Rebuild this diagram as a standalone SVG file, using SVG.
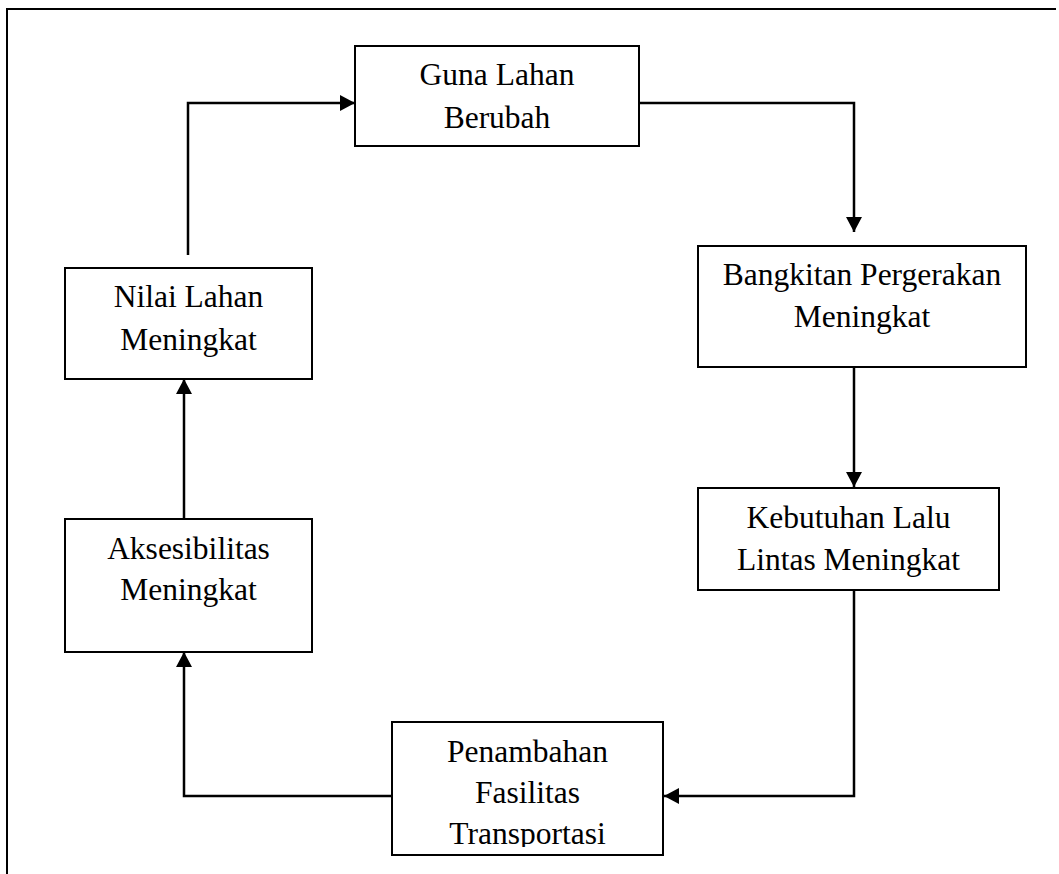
<svg xmlns="http://www.w3.org/2000/svg" width="1059" height="874" viewBox="0 0 1059 874">
  <style>
    .box { fill: #fff; stroke: #000; stroke-width: 2; }
    .lbl { font-family: "Liberation Serif", "Times New Roman", serif; font-size: 31.5px; fill: #000; text-anchor: middle; }
    .conn { fill: none; stroke: #000; stroke-width: 2.5; }
    .frame { fill: none; stroke: #000; stroke-width: 2; }
  </style>
  <defs>
    <marker id="arr" viewBox="0 0 15 16" refX="15" refY="8" markerWidth="15" markerHeight="16" markerUnits="userSpaceOnUse" orient="auto">
      <path d="M0,0 L15,8 L0,16 Z" fill="#000"/>
    </marker>
    <clipPath id="clipPen">
      <rect x="392" y="722" width="271" height="125"/>
    </clipPath>
  </defs>
  <rect width="1059" height="874" fill="#fff"/>
  <path class="frame" d="M7,874 L7,9 L1056,9"/>

  <g id="connectors">
    <path class="conn" d="M188,255 L188,103 L355,103" marker-end="url(#arr)"/>
    <path class="conn" d="M639,103 L854,103 L854,232" marker-end="url(#arr)"/>
    <path class="conn" d="M854,367 L854,487" marker-end="url(#arr)"/>
    <path class="conn" d="M854,590 L854,796 L664,796" marker-end="url(#arr)"/>
    <path class="conn" d="M392,796 L184,796 L184,652" marker-end="url(#arr)"/>
    <path class="conn" d="M184,519 L184,379" marker-end="url(#arr)"/>
  </g>

  <g id="guna-lahan">
    <rect class="box" x="355" y="46" width="284" height="100"/>
    <text class="lbl" x="497" y="85">Guna Lahan</text>
    <text class="lbl" x="497" y="128">Berubah</text>
  </g>

  <g id="bangkitan">
    <rect class="box" x="698" y="246" width="328" height="121"/>
    <text class="lbl" x="862" y="285">Bangkitan Pergerakan</text>
    <text class="lbl" x="862" y="327">Meningkat</text>
  </g>

  <g id="kebutuhan">
    <rect class="box" x="698" y="488" width="301" height="102"/>
    <text class="lbl" x="848.5" y="528">Kebutuhan Lalu</text>
    <text class="lbl" x="848.5" y="570">Lintas Meningkat</text>
  </g>

  <g id="penambahan">
    <rect class="box" x="392" y="722" width="271" height="133"/>
    <g clip-path="url(#clipPen)">
      <text class="lbl" x="527.5" y="762">Penambahan</text>
      <text class="lbl" x="527.5" y="803">Fasilitas</text>
      <text class="lbl" x="527.5" y="844">Transportasi</text>
    </g>
  </g>

  <g id="aksesibilitas">
    <rect class="box" x="65" y="519" width="247" height="133"/>
    <text class="lbl" x="188.5" y="559">Aksesibilitas</text>
    <text class="lbl" x="188.5" y="600">Meningkat</text>
  </g>

  <g id="nilai-lahan">
    <rect class="box" x="65" y="268" width="247" height="111"/>
    <text class="lbl" x="188.5" y="307">Nilai Lahan</text>
    <text class="lbl" x="188.5" y="350">Meningkat</text>
  </g>
</svg>
